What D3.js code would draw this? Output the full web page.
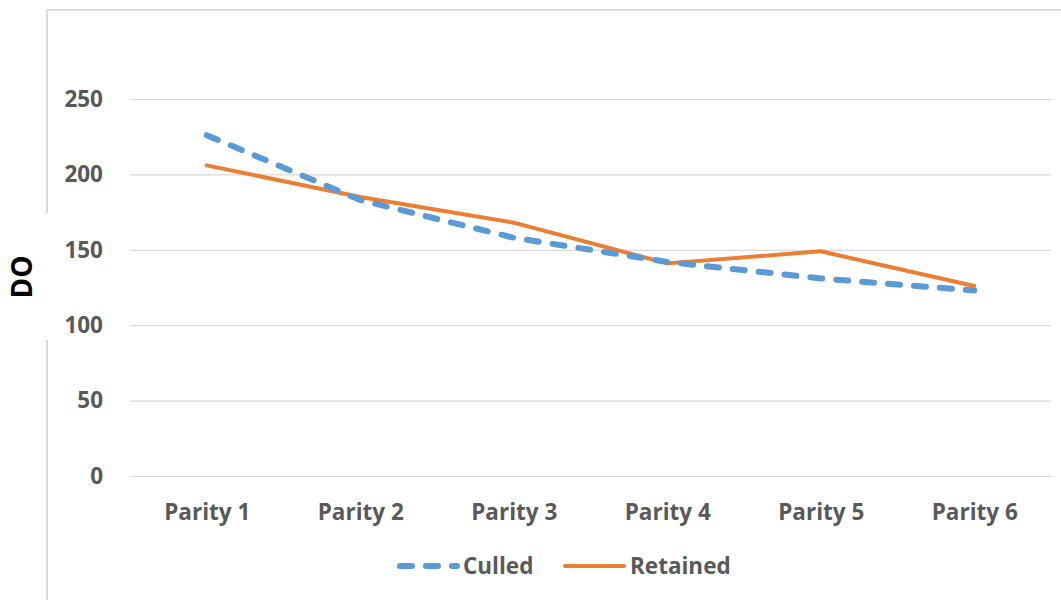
<!DOCTYPE html>
<html>
<head>
<meta charset="utf-8">
<script src="https://cdn.jsdelivr.net/npm/d3@7"></script>
<style>
  body { margin: 0; background: #fff; }
  svg { display: block; }
  text { font-family: "Open Sans", "Liberation Sans", sans-serif; }
</style>
</head>
<body>
<svg id="chart" width="1061" height="600"></svg>
<script>
const categories = ["Parity 1", "Parity 2", "Parity 3", "Parity 4", "Parity 5", "Parity 6"];
const culled = [226, 183, 158, 142, 131, 123];
const retained = [206, 185, 168, 141, 149, 126];
const yTicks = [0, 50, 100, 150, 200, 250];
const seriesNames = ["Culled", "Retained"];

const svg = d3.select("#chart");
const W = 1061, H = 600;
const plot = { left: 130, right: 1051, top: 99, bottom: 476 };
const FS = 22.5;

const x = d3.scalePoint().domain(categories).range([plot.left, plot.right]).padding(0.5);
const y = d3.scaleLinear().domain([0, 250]).range([plot.bottom, plot.top]);

// chart border (top + left with a gap for the axis title)
svg.append("line").attr("x1", 47).attr("x2", W).attr("y1", 10).attr("y2", 10)
  .attr("stroke", "#d9d9d9").attr("stroke-width", 2);
svg.append("line").attr("x1", 47).attr("x2", 47).attr("y1", 9).attr("y2", 213)
  .attr("stroke", "#d9d9d9").attr("stroke-width", 2);
svg.append("line").attr("x1", 47).attr("x2", 47).attr("y1", 340).attr("y2", H)
  .attr("stroke", "#d9d9d9").attr("stroke-width", 2);

// gridlines + y labels
const yAxis = d3.axisLeft(y).tickValues(yTicks).tickSize(-(plot.right - plot.left)).tickPadding(27);
const gy = svg.append("g").attr("transform", `translate(${plot.left},0)`).call(yAxis);
gy.select(".domain").remove();
gy.selectAll(".tick line").attr("stroke", "#d9d9d9").attr("stroke-width", 1.2);
gy.selectAll(".tick text").attr("fill", "#595959").attr("font-size", FS).attr("font-weight", "bold")
  .attr("font-family", "'Open Sans', sans-serif");

// x axis labels
const xAxis = d3.axisBottom(x).tickSize(0).tickPadding(28);
const gx = svg.append("g").attr("transform", `translate(0,${plot.bottom})`).call(xAxis);
gx.select(".domain").remove();
gx.selectAll(".tick text").attr("fill", "#595959").attr("font-size", FS).attr("font-weight", "bold")
  .attr("font-family", "'Open Sans', sans-serif");

// y title
svg.append("text").attr("transform", "translate(32,277) rotate(-90)")
  .attr("text-anchor", "middle").attr("font-size", 28).attr("font-weight", "bold")
  .attr("fill", "#000").text("DO");

const line = d3.line().x((d, i) => x(categories[i])).y(d => y(d));

svg.append("path").datum(retained).attr("d", line).attr("fill", "none")
  .attr("stroke", "#ed7d31").attr("stroke-width", 4).attr("stroke-linejoin", "round").attr("stroke-linecap", "round");
svg.append("path").datum(culled).attr("d", line).attr("fill", "none")
  .attr("stroke", "#5b9bd5").attr("stroke-width", 6).attr("stroke-dasharray", "12,14")
  .attr("stroke-linecap", "round").attr("stroke-linejoin", "round");

// legend
const leg = svg.append("g");
const ly = 566;
leg.append("line").attr("x1", 400).attr("x2", 457).attr("y1", ly).attr("y2", ly)
  .attr("stroke", "#5b9bd5").attr("stroke-width", 6).attr("stroke-dasharray", "12,14").attr("stroke-linecap", "round");
leg.append("text").attr("x", 463).attr("y", ly).attr("dy", "0.35em").attr("font-size", FS).attr("font-weight", "bold")
  .attr("fill", "#595959").text(seriesNames[0]);
leg.append("line").attr("x1", 565).attr("x2", 624).attr("y1", ly).attr("y2", ly)
  .attr("stroke", "#ed7d31").attr("stroke-width", 4).attr("stroke-linecap", "round");
leg.append("text").attr("x", 630).attr("y", ly).attr("dy", "0.35em").attr("font-size", FS).attr("font-weight", "bold")
  .attr("fill", "#595959").text(seriesNames[1]);
</script>
</body>
</html>
